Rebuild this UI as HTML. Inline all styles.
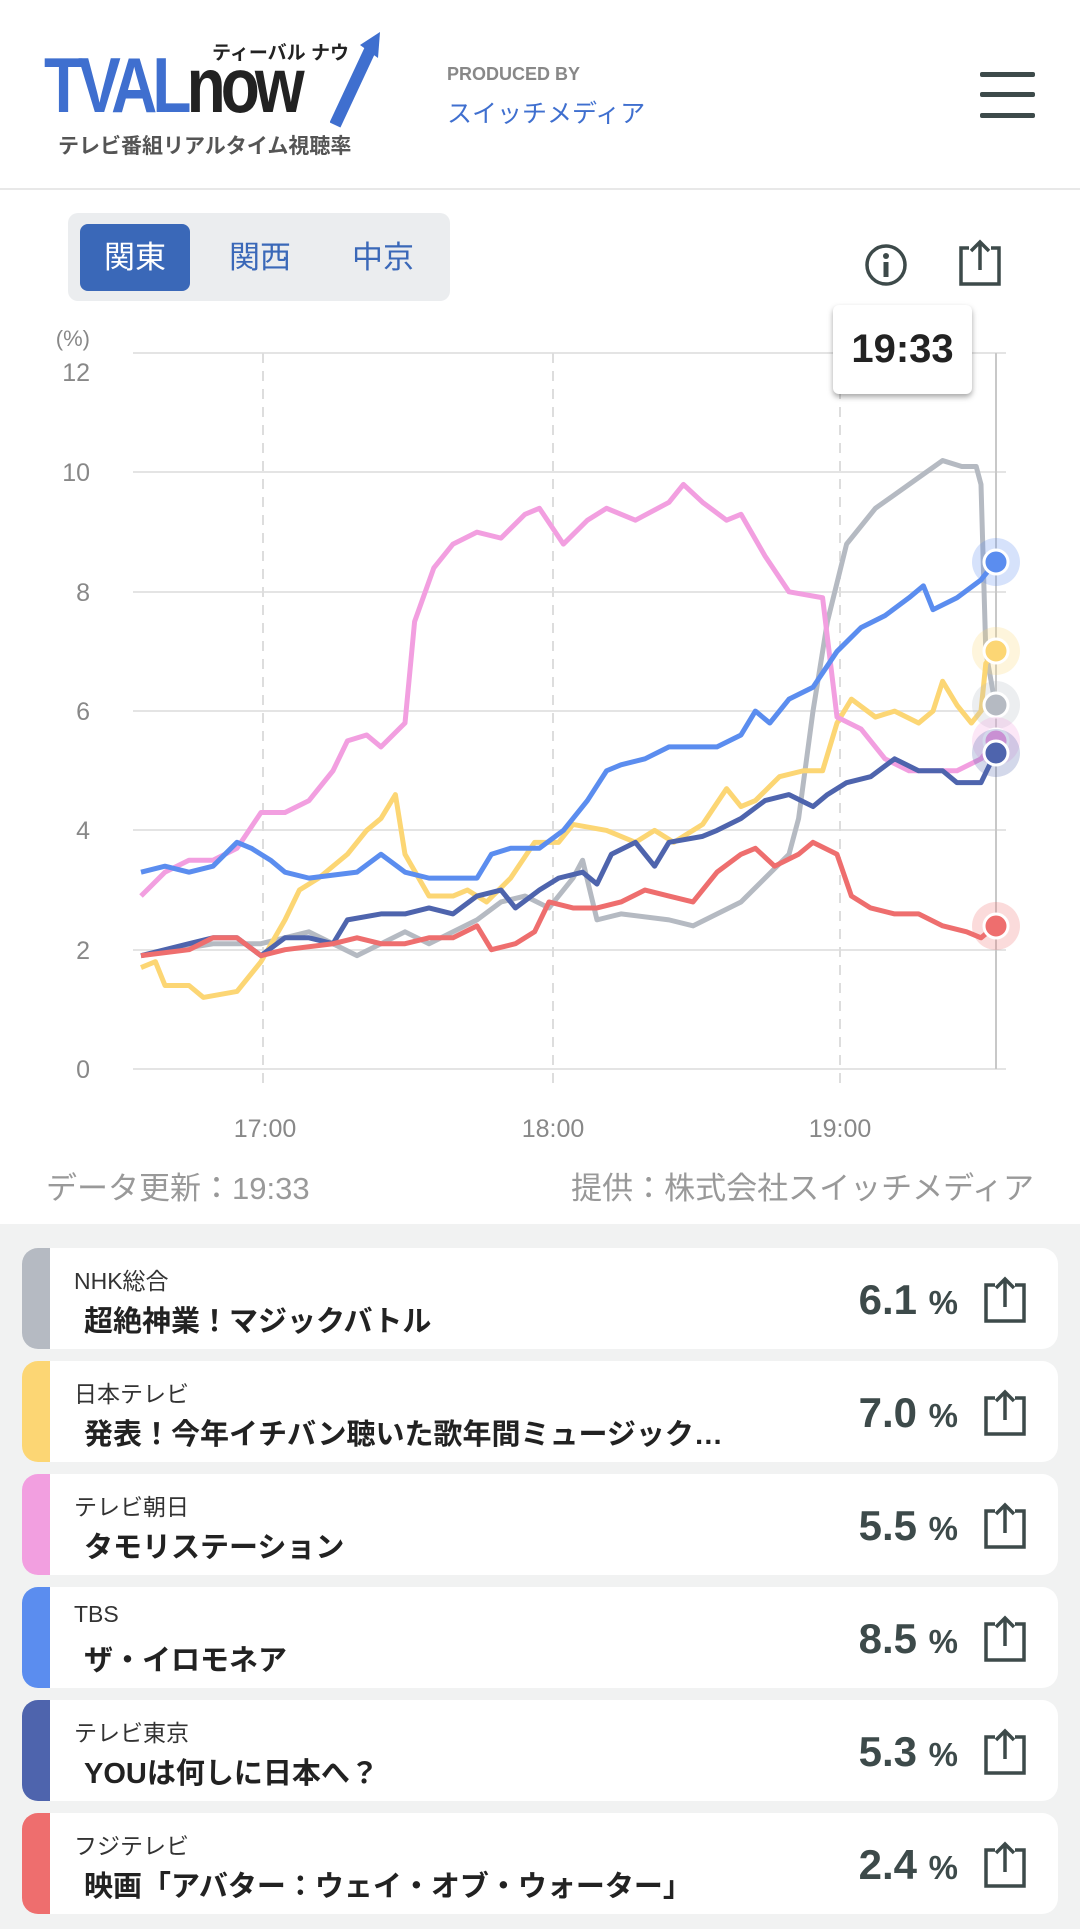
<!DOCTYPE html>
<html><head><meta charset="utf-8"><style>
*{margin:0;padding:0;box-sizing:border-box}
body{width:1080px;height:1929px;background:#fff;font-family:"Liberation Sans","Noto Sans CJK JP",sans-serif;position:relative;overflow:hidden}
.abs{position:absolute}
.card{position:absolute;left:22px;width:1036px;height:101px;background:#fff;border-radius:16px;overflow:hidden}
.card .bar{position:absolute;left:0;top:0;width:28px;height:100%}
.card .st{position:absolute;left:52px;top:14px;font-size:23px;color:#333}
.card .ti{position:absolute;left:62px;top:50px;font-size:29px;font-weight:bold;color:#222;white-space:nowrap}
.card .pc{position:absolute;right:100px;top:28px;font-size:42px;font-weight:bold;color:#3d4a4a}
.card .pc span{font-size:33px}
.card svg{position:absolute;right:30px;top:28px}
</style></head><body>
<!-- header -->
<div class="abs" style="left:44px;top:40px;font-size:78px;font-weight:bold;color:#3f6fcf;letter-spacing:-6px;transform:scaleX(0.82);transform-origin:left;font-family:'Liberation Sans Narrow','Liberation Sans',sans-serif">TVAL<span style="color:#222">now</span></div>
<div class="abs" style="left:212px;top:38px;font-size:19px;font-weight:bold;color:#222">ティーバル ナウ</div>
<svg class="abs" style="left:330px;top:30px" width="55" height="100"><path d="M5 95 L40 20" stroke="#3f6fcf" stroke-width="12"/><path d="M30 15 L50 2 L48 28 Z" fill="#3f6fcf"/></svg>
<div class="abs" style="left:58px;top:130px;font-size:21px;font-weight:bold;color:#555">テレビ番組リアルタイム視聴率</div>
<div class="abs" style="left:447px;top:64px;font-size:18px;color:#888;font-weight:bold">PRODUCED BY</div>
<div class="abs" style="left:447px;top:94px;font-size:25px;color:#3f6fcf">スイッチメディア</div>
<div class="abs" style="left:980px;top:72px;width:55px;height:5px;background:#3d4a4a;border-radius:2px"></div>
<div class="abs" style="left:980px;top:92px;width:55px;height:5px;background:#3d4a4a;border-radius:2px"></div>
<div class="abs" style="left:980px;top:113px;width:55px;height:5px;background:#3d4a4a;border-radius:2px"></div>
<div class="abs" style="left:0;top:188px;width:1080px;height:2px;background:#e8e8e8"></div>
<!-- tabs -->
<div class="abs" style="left:68px;top:213px;width:382px;height:88px;background:#ebedef;border-radius:10px"></div>
<div class="abs" style="left:80px;top:224px;width:110px;height:67px;background:#3a68b8;border-radius:8px;color:#fff;font-size:31px;text-align:center;line-height:67px">関東</div>
<div class="abs" style="left:205px;top:224px;width:110px;height:67px;color:#3a68b8;font-size:31px;text-align:center;line-height:67px">関西</div>
<div class="abs" style="left:328px;top:224px;width:110px;height:67px;color:#3a68b8;font-size:31px;text-align:center;line-height:67px">中京</div>
<!-- icons -->
<svg class="abs" style="left:864px;top:243px" width="44" height="44"><circle cx="22" cy="22" r="19" fill="none" stroke="#3d4a4a" stroke-width="3.5"/><circle cx="22" cy="13" r="3" fill="#3d4a4a"/><rect x="19.5" y="19" width="5" height="15" fill="#3d4a4a"/></svg>
<svg class="abs" style="left:955px;top:238px" width="50" height="50"><path d="M14 10 H6 V46 H44 V10 H36" fill="none" stroke="#3d4a4a" stroke-width="3.5"/><path d="M25 32 V4 M16 13 L25 4 L34 13" fill="none" stroke="#3d4a4a" stroke-width="3.5"/></svg>
<!-- chart -->
<svg class="abs" style="left:0;top:0" width="1080" height="1200">
<g stroke="#e4e4e4" stroke-width="2">
<line x1="133" x2="1006" y1="353" y2="353"/><line x1="133" x2="1006" y1="472" y2="472"/><line x1="133" x2="1006" y1="592" y2="592"/><line x1="133" x2="1006" y1="711" y2="711"/><line x1="133" x2="1006" y1="830" y2="830"/><line x1="133" x2="1006" y1="950" y2="950"/><line x1="133" x2="1006" y1="1069" y2="1069"/>
</g>
<g stroke="#ddd" stroke-width="2" stroke-dasharray="10,8"><line x1="263" x2="263" y1="353" y2="1090"/><line x1="553" x2="553" y1="353" y2="1090"/><line x1="840" x2="840" y1="353" y2="1090"/></g>
<line x1="996" x2="996" y1="353" y2="1069" stroke="#c8c8c8" stroke-width="2"/>
<g font-size="25" fill="#888" text-anchor="end"><text x="90" y="381">12</text><text x="90" y="481">10</text><text x="90" y="601">8</text><text x="90" y="720">6</text><text x="90" y="839">4</text><text x="90" y="959">2</text><text x="90" y="1078">0</text><text x="90" y="346" font-size="22">(%)</text></g>
<g font-size="25" fill="#888" text-anchor="middle"><text x="265" y="1137">17:00</text><text x="553" y="1137">18:00</text><text x="840" y="1137">19:00</text></g>
<g transform="translate(141,1069) scale(4.8,-59.65)" fill="none" stroke-linejoin="round" stroke-width="5">
<polyline vector-effect="non-scaling-stroke" stroke="#b5bac2" points="0,1.9 15,2.1 25,2.1 35,2.3 40,2.1 45,1.9 50,2.1 55,2.3 60,2.1 70,2.5 75,2.8 80,2.9 85,2.7 90,3.2 92,3.5 95,2.5 100,2.6 110,2.5 115,2.4 125,2.8 130,3.2 135,3.6 137,4.2 140,6 143,7.5 147,8.8 153,9.4 160,9.8 167,10.2 171,10.1 174,10.1 175,9.8 176,7 178,6.1"/>
<polyline vector-effect="non-scaling-stroke" stroke="#fcd674" points="0,1.7 3,1.8 5,1.4 10,1.4 13,1.2 20,1.3 25,1.8 30,2.5 33,3 37,3.2 43,3.6 47,4 50,4.2 53,4.6 55,3.6 60,2.9 65,2.9 68,3 72,2.8 77,3.2 82,3.8 87,3.8 90,4.1 97,4 103,3.8 107,4 111,3.8 117,4.1 122,4.7 125,4.4 128,4.5 133,4.9 138,5 142,5 145,5.8 148,6.2 153,5.9 157,6 162,5.8 165,6 167,6.5 170,6.1 173,5.8 175,6 176,6.8 178,7"/>
<polyline vector-effect="non-scaling-stroke" stroke="#f29fe0" points="0,2.9 5,3.3 10,3.5 15,3.5 20,3.7 25,4.3 30,4.3 35,4.5 40,5 43,5.5 47,5.6 50,5.4 55,5.8 57,7.5 61,8.4 65,8.8 70,9 75,8.9 80,9.3 83,9.4 88,8.8 93,9.2 97,9.4 103,9.2 110,9.5 113,9.8 117,9.5 122,9.2 125,9.3 130,8.6 135,8 142,7.9 145,5.9 150,5.7 155,5.2 160,5 170,5 175,5.2 178,5.5"/>
<polyline vector-effect="non-scaling-stroke" stroke="#5b8def" points="0,3.3 5,3.4 10,3.3 15,3.4 20,3.8 23,3.7 27,3.5 30,3.3 35,3.2 45,3.3 50,3.6 55,3.3 60,3.2 70,3.2 73,3.6 77,3.7 83,3.7 88,4 93,4.5 97,5 100,5.1 105,5.2 110,5.4 115,5.4 120,5.4 125,5.6 128,6 131,5.8 135,6.2 140,6.4 145,7 150,7.4 155,7.6 160,7.9 163,8.1 165,7.7 170,7.9 175,8.2 178,8.5"/>
<polyline vector-effect="non-scaling-stroke" stroke="#4e64ad" points="0,1.9 5,2 10,2.1 15,2.2 20,2.2 25,1.9 30,2.2 35,2.2 40,2.1 43,2.5 50,2.6 55,2.6 60,2.7 65,2.6 70,2.9 75,3 78,2.7 83,3 87,3.2 92,3.3 95,3.1 98,3.6 103,3.8 107,3.4 110,3.8 117,3.9 120,4 125,4.2 130,4.5 135,4.6 140,4.4 143,4.6 147,4.8 152,4.9 157,5.2 162,5 167,5 170,4.8 175,4.8 178,5.3"/>
<polyline vector-effect="non-scaling-stroke" stroke="#ee6e6e" points="0,1.9 10,2 15,2.2 20,2.2 25,1.9 30,2 40,2.1 45,2.2 50,2.1 55,2.1 60,2.2 65,2.2 70,2.4 73,2 78,2.1 82,2.3 85,2.8 90,2.7 95,2.7 100,2.8 105,3 110,2.9 115,2.8 120,3.3 125,3.6 128,3.7 132,3.4 137,3.6 140,3.8 145,3.6 148,2.9 152,2.7 157,2.6 162,2.6 167,2.4 172,2.3 175,2.2 178,2.4"/>
</g>
<g stroke="#fff" stroke-width="3">
<circle cx="996" cy="562" r="24" fill="#5b8def" fill-opacity=".25" stroke="none"/><circle cx="996" cy="562" r="12" fill="#5b8def"/>
<circle cx="996" cy="651" r="24" fill="#fcd674" fill-opacity=".25" stroke="none"/><circle cx="996" cy="651" r="12" fill="#fcd674"/>
<circle cx="996" cy="705" r="24" fill="#b5bac2" fill-opacity=".25" stroke="none"/><circle cx="996" cy="705" r="12" fill="#b5bac2"/>
<circle cx="996" cy="741" r="24" fill="#f29fe0" fill-opacity=".25" stroke="none"/><circle cx="996" cy="741" r="12" fill="#f29fe0"/>
<circle cx="996" cy="753" r="24" fill="#4e64ad" fill-opacity=".25" stroke="none"/><circle cx="996" cy="753" r="12" fill="#4e64ad"/>
<circle cx="996" cy="926" r="24" fill="#ee6e6e" fill-opacity=".25" stroke="none"/><circle cx="996" cy="926" r="12" fill="#ee6e6e"/>
</g>
</svg>
<div class="abs" style="left:833px;top:305px;width:139px;height:89px;background:#fff;border-radius:6px;box-shadow:0 3px 6px rgba(0,0,0,.35);font-size:40px;font-weight:bold;color:#222;text-align:center;line-height:89px">19:33</div>
<div class="abs" style="left:46px;top:1163px;font-size:31px;color:#999">データ更新：19:33</div>
<div class="abs" style="right:46px;top:1163px;font-size:31px;color:#999">提供：株式会社スイッチメディア</div>
<!-- list -->
<div class="abs" style="left:0;top:1224px;width:1080px;height:705px;background:#f1f2f2"></div>
<div class="card" style="top:1248px"><div class="bar" style="background:#b5bac2"></div><div class="st">NHK総合</div><div class="ti">超絶神業！マジックバトル</div><div class="pc">6.1 <span>%</span></div><svg width="46" height="48"><path d="M13 9 H4 V45 H42 V9 H33" fill="none" stroke="#3d4a4a" stroke-width="3.5"/><path d="M23 31 V3 M14 12 L23 3 L32 12" fill="none" stroke="#3d4a4a" stroke-width="3.5"/></svg></div>
<div class="card" style="top:1361px"><div class="bar" style="background:#fcd674"></div><div class="st">日本テレビ</div><div class="ti">発表！今年イチバン聴いた歌年間ミュージック…</div><div class="pc" style="background:#fff;padding-left:6px">7.0 <span>%</span></div><svg width="46" height="48"><path d="M13 9 H4 V45 H42 V9 H33" fill="none" stroke="#3d4a4a" stroke-width="3.5"/><path d="M23 31 V3 M14 12 L23 3 L32 12" fill="none" stroke="#3d4a4a" stroke-width="3.5"/></svg></div>
<div class="card" style="top:1474px"><div class="bar" style="background:#f29fe0"></div><div class="st">テレビ朝日</div><div class="ti">タモリステーション</div><div class="pc">5.5 <span>%</span></div><svg width="46" height="48"><path d="M13 9 H4 V45 H42 V9 H33" fill="none" stroke="#3d4a4a" stroke-width="3.5"/><path d="M23 31 V3 M14 12 L23 3 L32 12" fill="none" stroke="#3d4a4a" stroke-width="3.5"/></svg></div>
<div class="card" style="top:1587px"><div class="bar" style="background:#5b8def"></div><div class="st">TBS</div><div class="ti">ザ・イロモネア</div><div class="pc">8.5 <span>%</span></div><svg width="46" height="48"><path d="M13 9 H4 V45 H42 V9 H33" fill="none" stroke="#3d4a4a" stroke-width="3.5"/><path d="M23 31 V3 M14 12 L23 3 L32 12" fill="none" stroke="#3d4a4a" stroke-width="3.5"/></svg></div>
<div class="card" style="top:1700px"><div class="bar" style="background:#4e64ad"></div><div class="st">テレビ東京</div><div class="ti">YOUは何しに日本へ？</div><div class="pc">5.3 <span>%</span></div><svg width="46" height="48"><path d="M13 9 H4 V45 H42 V9 H33" fill="none" stroke="#3d4a4a" stroke-width="3.5"/><path d="M23 31 V3 M14 12 L23 3 L32 12" fill="none" stroke="#3d4a4a" stroke-width="3.5"/></svg></div>
<div class="card" style="top:1813px"><div class="bar" style="background:#ee6e6e"></div><div class="st">フジテレビ</div><div class="ti">映画「アバター：ウェイ・オブ・ウォーター」</div><div class="pc">2.4 <span>%</span></div><svg width="46" height="48"><path d="M13 9 H4 V45 H42 V9 H33" fill="none" stroke="#3d4a4a" stroke-width="3.5"/><path d="M23 31 V3 M14 12 L23 3 L32 12" fill="none" stroke="#3d4a4a" stroke-width="3.5"/></svg></div>
</body></html>
